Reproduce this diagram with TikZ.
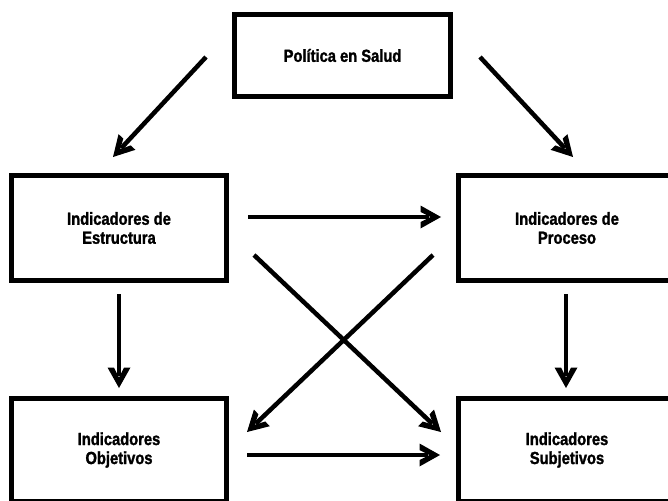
\documentclass[tikz,border=0pt]{standalone}
\usepackage{fontspec}
\setmainfont{Liberation Sans}[FakeStretch=0.84,FakeBold=1.5]
\usetikzlibrary{arrows.meta}
\pgfdeclarearrow{
  name=Chev,
  setup code={
    \pgfarrowssettipend{0pt}
    \pgfarrowssetlineend{-12pt}
    \pgfarrowssetbackend{-20.5pt}
    \pgfarrowshullpoint{0pt}{0pt}
    \pgfarrowshullpoint{-20.5pt}{11.5pt}
    \pgfarrowshullpoint{-20.5pt}{-11.5pt}
  },
  drawing code={
    \pgfpathmoveto{\pgfpointorigin}
    \pgfpathlineto{\pgfqpoint{-20.5pt}{11.5pt}}
    \pgfpathlineto{\pgfqpoint{-20.5pt}{5pt}}
    \pgfpathlineto{\pgfqpoint{-10.5pt}{0pt}}
    \pgfpathlineto{\pgfqpoint{-20.5pt}{-5pt}}
    \pgfpathlineto{\pgfqpoint{-20.5pt}{-11.5pt}}
    \pgfpathclose
    \pgfusepathqfill
  }
}
\tikzset{
  box/.style={draw, line width=5pt, inner sep=0pt, align=center,
    font=\bfseries\fontsize{17.5}{19}\selectfont},
  arr/.style={line width=4.5pt, -Chev}
}
\begin{document}
\begin{tikzpicture}[x=1pt,y=-1pt]
\useasboundingbox (0,0) rectangle (668,500);
\clip (0,0) rectangle (668,500);
% boxes
\node[box, minimum width=216pt, minimum height=82pt] (pol) at (342.5,55.5) {Política en Salud};
\node[box, minimum width=215pt, minimum height=105pt] (est) at (119,228) {Indicadores de\\Estructura};
\node[box, minimum width=217pt, minimum height=105pt] (pro) at (567,228) {Indicadores de\\Proceso};
\node[box, minimum width=215pt, minimum height=103pt] (obj) at (119,450) {Indicadores\\Objetivos};
\node[box, minimum width=217pt, minimum height=103pt] (sub) at (567,450) {Indicadores\\Subjetivos};
% connector end points
\coordinate (a1s) at (206,57);  \coordinate (a1e) at (113,157);
\coordinate (a2s) at (480,57);  \coordinate (a2e) at (573,157);
\coordinate (a3s) at (248,217); \coordinate (a3e) at (441,217);
\coordinate (a4s) at (119,294); \coordinate (a4e) at (119,388);
\coordinate (a5s) at (566,294); \coordinate (a5e) at (566,388);
\coordinate (a6s) at (254,255); \coordinate (a6e) at (441,432);
\coordinate (a7s) at (433,255); \coordinate (a7e) at (247,432);
\coordinate (a8s) at (247,455); \coordinate (a8e) at (440,455);
% connectors
\draw[arr] (a1s) -- (a1e);
\draw[arr] (a2s) -- (a2e);
\draw[arr] (a3s) -- (a3e);
\draw[arr] (a4s) -- (a4e);
\draw[arr] (a5s) -- (a5e);
\draw[arr] (a6s) -- (a6e);
\draw[arr] (a7s) -- (a7e);
\draw[arr] (a8s) -- (a8e);
\end{tikzpicture}
\end{document}
